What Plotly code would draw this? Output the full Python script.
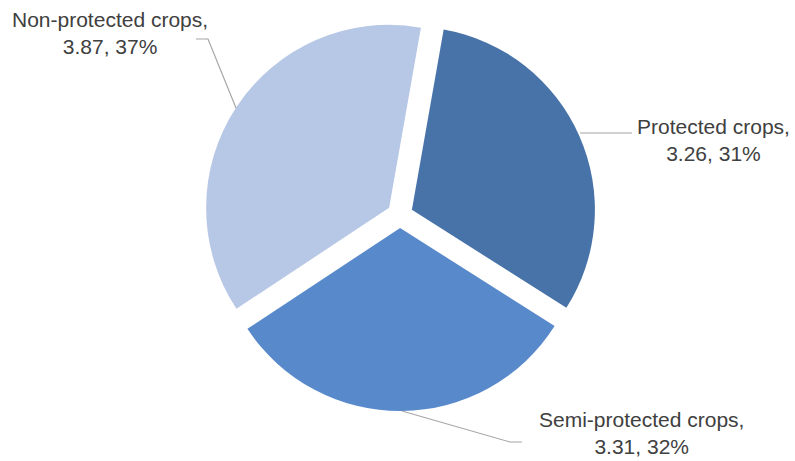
import plotly.graph_objects as go

# Crop protection categories and their values
categories = ["Protected crops", "Semi-protected crops", "Non-protected crops"]
values = [3.26, 3.31, 3.87]
colors = ["#4873A8", "#5889CB", "#B7C7E6"]

W, H = 795, 461
total = sum(values)
percents = [round(v / total * 100) for v in values]

# pie centre and half-size of its square domain, in pixels
CX, CY, HALF = 400, 215, 196

fig = go.Figure(
    go.Pie(
        labels=categories,
        values=values,
        sort=False,
        direction="clockwise",
        rotation=10,
        pull=[0.071, 0.071, 0.071],
        marker=dict(colors=colors, line=dict(width=0)),
        textinfo="none",
        hoverinfo="label+value+percent",
        showlegend=False,
        domain=dict(x=[(CX - HALF) / W, (CX + HALF) / W],
                    y=[1 - (CY + HALF) / H, 1 - (CY - HALF) / H]),
    )
)


def px(x, y):
    return x / W, 1 - y / H


# label anchor points (pixel centres) and leader-line paths
label_pos = {
    "Protected crops": (713, 140),
    "Semi-protected crops": (641, 433),
    "Non-protected crops": (110, 33),
}
leaders = {
    "Protected crops": [(580, 133), (632, 133)],
    "Semi-protected crops": [(402, 411), (510, 442), (522, 442)],
    "Non-protected crops": [(196, 39), (208, 39), (236, 108)],
}

for name, val, pct in zip(categories, values, percents):
    lx, ly = px(*label_pos[name])
    fig.add_annotation(
        x=lx, y=ly, xref="paper", yref="paper",
        text=f"{name},<br>{val:.2f}, {pct}%",
        showarrow=False, xanchor="center", yanchor="middle",
        align="center",
        font=dict(family="Liberation Sans, Arial", size=21, color="#404040"),
    )
    pts = [px(x, y) for x, y in leaders[name]]
    path = "M " + " L ".join(f"{x:.5f},{y:.5f}" for x, y in pts)
    fig.add_shape(type="path", path=path, xref="paper", yref="paper",
                  line=dict(color="#A6A6A6", width=1.2))

fig.update_layout(
    width=W, height=H,
    margin=dict(l=0, r=0, t=0, b=0),
    paper_bgcolor="white",
    plot_bgcolor="white",
)

fig.write_html("out.html")
